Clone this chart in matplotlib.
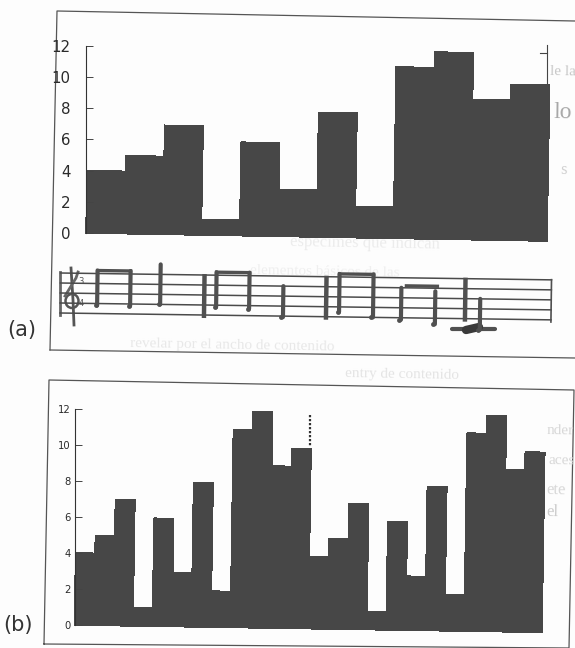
import matplotlib
matplotlib.use("Agg")
import matplotlib.pyplot as plt
from matplotlib.patches import Ellipse
from matplotlib.transforms import Affine2D

W, H = 575, 648
BAR_COLOR = "#474747"
NOTE_COLOR = "#505050"
STAFF_TILT = -0.8

# one melody, one height per note
melody = [4, 5, 7, 1, 6, 3, 8, 2, 11, 12, 9, 10]
melody_twice = melody + melody
y_ticks = [0, 2, 4, 6, 8, 10, 12]

# staff, x in pixels of the scan, y in staff units (0 bottom line, 4 top line)
stem_x = [97, 130, 160, 216, 249, 283, 339, 373, 401, 435, 480]
stem_low = [0.8, 0.8, 1.0, 0.8, 0.7, -0.1, 0.5, 0.0, -0.2, -0.6, -1.1]
stem_high = [4.3, 4.3, 5.0, 4.3, 4.3, 3.0, 4.3, 4.3, 3.0, 2.7, 2.0]
beams = [(97, 130, 4.3), (216, 249, 4.3), (339, 373, 4.3), (406, 437, 3.2)]
bar_lines = [204, 326, 465, 551]
# ghost text from the other side of the page
ghost = [
    (550, 72, "le la", 11, "#c8c8c8"),
    (553, 113, "lo", 17, "#a8a8a8"),
    (560, 170, "s", 12, "#d0d0d0"),
    (290, 243, "especimes que indican", 12, "#ececec"),
    (250, 272, "elementos básicos de las", 11, "#efefef"),
    (130, 345, "revelar por el ancho de contenido", 11, "#e8e8e8"),
    (345, 374, "entry de contenido", 11, "#e4e4e4"),
    (547, 431, "nder", 11, "#d8d8d8"),
    (548, 461, "aces", 11, "#d8d8d8"),
    (546, 490, "ete", 12, "#d8d8d8"),
    (546, 512, "el", 12, "#cccccc"),
]


def make_axes(fig, left, top, right, bottom):
    return fig.add_axes([left / W, 1 - bottom / H, (right - left) / W, (bottom - top) / H])


def tilt(artist, transform, deg, x_px, y_px):
    # the page was scanned a little crooked
    turn = Affine2D().rotate_deg_around(x_px, H - y_px, deg)
    artist.set_transform(transform + turn)
    artist.set_clip_on(False)


def bar_panel(fig, values, box, deg, size, stretch, tick_pad):
    left, top, right, bottom = box
    ax = make_axes(fig, left, top, right, bottom)
    ax.patch.set_alpha(0)
    ax.set_xlim(0, len(values))
    ax.set_ylim(0, 12)
    for i, v in enumerate(values):
        b = ax.bar(i + 0.5, v, width=1.0, color=BAR_COLOR, edgecolor=BAR_COLOR, linewidth=0.4, antialiased=False)[0]
        tilt(b, ax.transData, deg, left, bottom)
    for s in ["top", "right", "bottom"]:
        ax.spines[s].set_visible(False)
    ax.spines["left"].set_linewidth(0.8)
    ax.spines["left"].set_color("#333333")
    ax.spines["left"].set_zorder(5)
    ax.set_xticks([])
    ax.set_yticks(y_ticks)
    ax.tick_params(axis="y", direction="in", length=5, width=0.7, pad=tick_pad, color="#444444")
    for t in ax.get_yticklabels():
        t.set_fontsize(size)
        t.set_fontstretch(stretch)
        t.set_color("#2a2a2a")
    return ax


fig = plt.figure(figsize=(W / 100, H / 100), dpi=100, facecolor="#fdfdfd")

page = fig.add_axes([0, 0, 1, 1])
page.set_xlim(0, W)
page.set_ylim(H, 0)
page.axis("off")

for x, y, s, size, col in ghost:
    page.text(x, y, s, fontsize=size, color=col, family="Liberation Serif", va="center", rotation=-1)

# frames round the two panels
page.plot([50, 57, 575], [350, 11, 21], color="#555555", lw=0.9)
page.plot([50, 575], [350, 358], color="#555555", lw=0.9)
page.plot([44, 49, 574, 569, 44], [644, 380, 390, 648, 644], color="#555555", lw=0.9)
page.text(7, 330, "(a)", fontsize=15, color="#333333", va="center")
page.text(3, 625, "(b)", fontsize=15, color="#333333", va="center")

bar_panel(fig, melody, (86, 46, 547, 233), -1.0, 10.8, "normal", 11)
bar_panel(fig, melody_twice, (74.5, 409, 542, 625), -0.9, 8, "condensed", 3)

# dotted line where the first melody ends, right side tick of panel a
page.plot([310, 310], [415, 447], color="#333333", lw=1.6, ls=(0, (1, 0.8)))
page.plot([547, 547], [45, 85], color="#444444", lw=0.8)
page.plot([540, 547], [53, 53], color="#444444", lw=0.8)

# staff below panel a
staff = make_axes(fig, 60, 273, 551, 313)
staff.patch.set_alpha(0)
staff.set_xlim(60, 551)
staff.set_ylim(0, 4)
staff.axis("off")
for n in range(5):
    line, = staff.plot([60, 551], [n, n], color="#4a4a4a", lw=1.1)
    tilt(line, staff.transData, STAFF_TILT, 60, 313)
for x in bar_lines:
    line, = staff.plot([x, x], [-0.3, 4.1], color=NOTE_COLOR, lw=3.2 if x != 551 else 1.2, solid_capstyle="butt")
    tilt(line, staff.transData, STAFF_TILT, 60, 313)
for x, lo, hi in zip(stem_x, stem_low, stem_high):
    line, = staff.plot([x, x], [lo, hi], color=NOTE_COLOR, lw=3.0, solid_capstyle="round")
    tilt(line, staff.transData, STAFF_TILT, 60, 313)
    head, = staff.plot([x - 1.5], [lo], "o", color=NOTE_COLOR, ms=3.5, mew=0)
    tilt(head, staff.transData, STAFF_TILT, 60, 313)
for x0, x1, y in beams:
    line, = staff.plot([x0, x1], [y, y], color=NOTE_COLOR, lw=2.4)
    tilt(line, staff.transData, STAFF_TILT, 60, 313)

# ledger line and the low note
page.plot([452, 495], [329, 329], color=NOTE_COLOR, lw=3.0, solid_capstyle="round")
page.plot([466, 479], [330, 327], color="#3a3a3a", lw=6, solid_capstyle="round")

# no installed font has a treble clef, so it is drawn by hand, blurred like the scan
page.plot([60, 60], [272, 315], color="#666666", lw=2)
page.plot([71, 73, 74], [268, 300, 325], color="#555555", lw=2)
page.plot([65, 76, 78], [296, 278, 272], color="#666666", lw=2)
page.add_patch(Ellipse((72, 301), 13, 14, fill=False, ec="#555555", lw=1.8))
page.text(81, 282, "3", fontsize=6, color="#555555", ha="center", va="center")
page.text(81, 303, "4", fontsize=6, color="#555555", ha="center", va="center")

fig.savefig("out.png", dpi=100, facecolor=fig.get_facecolor())
